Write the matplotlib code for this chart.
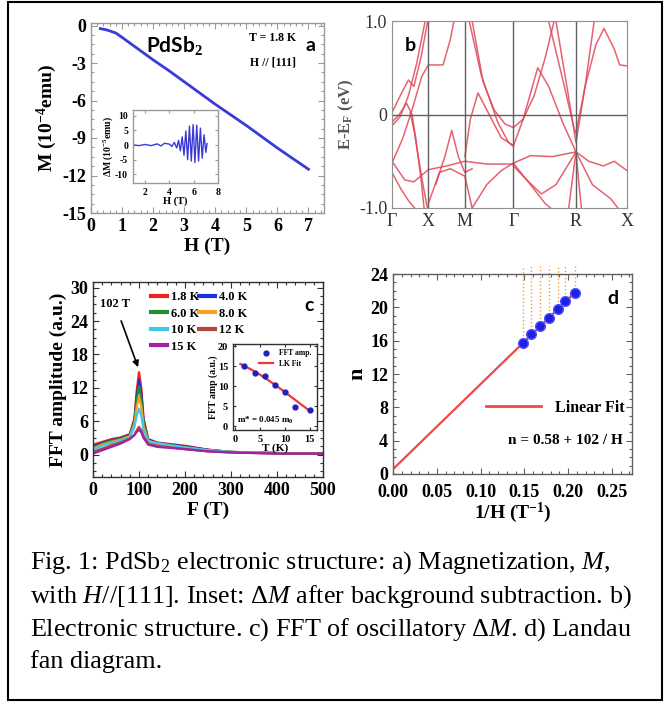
import matplotlib
matplotlib.use('Agg')
import matplotlib.pyplot as plt
from matplotlib.patches import Rectangle
from matplotlib.lines import Line2D

plt.rcParams['font.family'] = ['Liberation Serif', 'DejaVu Serif']
plt.rcParams['mathtext.fontset'] = 'custom'
plt.rcParams['mathtext.rm'] = 'Liberation Serif'
plt.rcParams['mathtext.it'] = 'Liberation Serif:italic'
plt.rcParams['mathtext.bf'] = 'Liberation Serif:bold'
plt.rcParams['axes.unicode_minus'] = False

# ---------------- data ----------------
# panel a: magnetization
m_h = [0.3, 0.5, 0.8, 1.0, 1.5, 2.0, 2.5, 3.0, 3.5, 4.0, 4.5, 5.0, 5.5, 6.0, 6.5, 7.0]
m_val = [-0.25, -0.35, -0.6, -0.95, -1.85, -2.75, -3.6, -4.5, -5.4, -6.3, -7.15, -8.0, -8.9, -9.8, -10.65, -11.5]
# inset a: oscillatory part
dm_h = [1.1, 1.5, 2.0, 2.5, 3.0, 3.3, 3.6, 4.0, 4.2, 4.4, 4.6, 4.75, 4.9, 5.05, 5.2, 5.35,
        5.5, 5.65, 5.8, 5.95, 6.1, 6.25, 6.4, 6.55, 6.7, 6.85, 7.0, 7.1]
dm_val = [0.0, -0.2, 0.2, -0.2, 0.4, -0.3, 0.6, 0.3, -0.5, 0.9, -1.0, 1.6, -2.0, 2.8, -3.5, 4.8,
          -5.0, 6.5, -5.5, 7.0, -6.0, 6.8, -5.5, 5.8, -4.5, 3.5, -2.5, 0.5]

# panel b: band structure (k, E) pairs
k_nodes = [0.0, 1.0, 2.0, 3.33, 5.05, 6.45]
k_labels = ['Γ', 'X', 'M', 'Γ', 'R', 'X']
band_1 = [(0, -0.12), (0.23, -0.02), (0.45, 0.20), (0.68, 0.55), (0.91, 1.0)]
band_2 = [(0, 0.02), (0.25, 0.22), (0.45, 0.37), (0.6, 0.30), (0.8, 0.62), (0.98, 1.0)]
band_3 = [(0, -0.52), (0.3, -0.25), (0.55, 0.05), (0.82, 0.41), (1.0, 0.53), (1.4, 0.53), (1.6, 0.80), (1.7, 1.0)]
band_4 = [(0, -0.50), (0.35, -0.70), (0.6, -0.72), (1.0, -0.59), (1.5, -0.55), (2.0, -0.50),
          (2.6, -0.53), (3.33, -0.53)]
band_5 = [(0.5, 0.02), (0.62, -0.2), (0.72, -0.45), (0.85, -0.75), (0.97, -1.0)]
band_6 = [(0, -0.62), (0.25, -0.8), (0.45, -0.92), (0.62, -1.0)]
band_7 = [(0, -0.08), (0.2, 0.0), (0.4, 0.12), (0.55, 0.0), (0.65, -0.25), (0.8, -0.7), (0.88, -1.0)]
band_8 = [(1.2, -0.75), (1.45, -0.45), (1.64, -0.17), (1.82, -0.45), (2.0, -0.62), (2.2, -0.58)]
band_9 = [(1.0, -0.95), (1.3, -0.62), (1.6, -0.58), (2.0, -0.66), (2.2, -1.0)]
band_10 = [(2.2, 1.0), (2.5, 0.35), (2.8, 0.05), (3.1, -0.1), (3.33, -0.14), (3.6, -0.05),
           (3.9, 0.2), (4.2, 0.6), (4.45, 1.0)]
band_11 = [(2.12, 1.0), (2.45, 0.42), (2.9, -0.08), (3.2, -0.30), (3.33, -0.34), (3.6, -0.05),
           (4.0, 0.50), (4.3, 0.30), (4.7, -0.1), (5.05, -0.40)]
band_12 = [(2.0, -0.45), (2.15, -0.05), (2.36, 0.23), (2.6, 0.05), (3.0, -0.25), (3.33, -0.33)]
band_13 = [(4.3, 1.0), (4.7, 0.35), (5.0, -0.15), (5.05, -0.2), (5.3, 0.3), (5.55, 1.0)]
band_14 = [(4.5, 1.0), (4.8, 0.3), (5.05, -0.30), (5.3, 0.3), (5.6, 0.75), (5.82, 0.92),
           (6.1, 0.7), (6.25, 0.53), (6.45, 0.52)]
band_15 = [(3.33, -0.55), (3.7, -0.7), (4.1, -0.85), (4.5, -0.75), (5.05, -0.40)]
band_16 = [(2.2, -1.0), (2.6, -0.75), (3.0, -0.6), (3.33, -0.52), (3.8, -0.44), (4.4, -0.45), (5.05, -0.40)]
band_17 = [(5.05, -0.40), (5.4, -0.5), (5.8, -0.55), (6.1, -0.50), (6.45, -0.60)]
band_18 = [(4.85, -1.0), (4.95, -0.7), (5.05, -0.40), (5.12, -0.7), (5.2, -1.0)]
band_19 = [(5.05, -0.40), (5.5, -0.75), (6.0, -0.9), (6.2, -1.0)]
band_20 = [(3.33, -0.52), (3.8, -0.75), (4.2, -0.95), (4.35, -1.0)]
bands = [band_1, band_2, band_3, band_4, band_5, band_6, band_7, band_8, band_9, band_10,
         band_11, band_12, band_13, band_14, band_15, band_16, band_17, band_18, band_19, band_20]

# panel c: FFT spectra
fft_f = [0, 20, 40, 60, 80, 90, 95, 100, 105, 110, 120, 140, 170, 200, 250, 300, 350, 400, 450, 500]
fft_18 = [1.8, 2.3, 2.8, 3.1, 3.7, 6.5, 11.5, 14.8, 12.0, 6.5, 2.8, 2.2, 1.9, 1.6, 0.9, 0.5, 0.4, 0.3, 0.2, 0.2]
fft_40 = [1.5, 2.1, 2.6, 3.0, 3.6, 6.2, 10.5, 13.5, 11.0, 6.0, 2.7, 2.1, 1.8, 1.5, 0.9, 0.5, 0.4, 0.3, 0.2, 0.2]
fft_60 = [1.3, 2.0, 2.5, 2.9, 3.5, 6.0, 9.8, 12.3, 10.0, 5.6, 2.6, 2.0, 1.7, 1.4, 0.8, 0.5, 0.4, 0.3, 0.2, 0.2]
fft_80 = [1.1, 1.8, 2.3, 2.7, 3.3, 5.5, 8.5, 10.5, 8.7, 5.0, 2.5, 1.9, 1.6, 1.3, 0.8, 0.5, 0.4, 0.3, 0.2, 0.2]
fft_100 = [0.9, 1.6, 2.1, 2.5, 3.1, 5.0, 7.0, 8.3, 7.0, 4.3, 2.4, 2.1, 1.7, 1.3, 0.8, 0.5, 0.4, 0.3, 0.2, 0.2]
fft_120 = [0.5, 1.1, 1.7, 2.2, 2.9, 3.6, 4.4, 5.0, 4.4, 3.3, 2.0, 1.6, 1.3, 1.0, 0.6, 0.4, 0.3, 0.2, 0.2, 0.2]
fft_150 = [0.2, 0.8, 1.4, 2.0, 2.8, 3.5, 4.1, 4.5, 4.0, 3.0, 1.8, 1.4, 1.2, 1.0, 0.6, 0.4, 0.3, 0.2, 0.2, 0.2]
fft_labels = ['1.8 K', '4.0 K', '6.0 K', '8.0 K', '10 K', '12 K', '15 K']
fft_colors = ['#f02020', '#2030e0', '#20902a', '#f5a020', '#40c8f0', '#b04a40', '#a020a8']
# inset c: amplitude vs T
amp_t = [1.8, 4, 6, 8, 10, 12, 15]
amp_val = [15.0, 13.3, 12.6, 10.3, 8.6, 4.8, 4.0]
lk_t = [1.0, 4, 6, 8, 10, 12, 15]
lk_val = [15.5, 13.6, 12.0, 10.3, 8.5, 6.6, 3.8]

# panel d: Landau fan
inv_h = [0.149, 0.158, 0.168, 0.178, 0.188, 0.197, 0.208]
n_idx = [15.75, 16.75, 17.75, 18.75, 19.75, 20.75, 21.75]
fit_x = [0.0, 0.21]
fit_n = [0.58, 22.0]

caption_lines = [
    r"Fig. 1: PdSb$_2$ electronic structure: a) Magnetization, $\mathit{M}$,",
    r"with $\mathit{H}$//[111]. Inset: Δ$\mathit{M}$ after background subtraction. b)",
    r"Electronic structure. c) FFT of oscillatory Δ$\mathit{M}$. d) Landau",
    r"fan diagram.",
]

# ---------------- figure ----------------
W, H = 664, 702
fig = plt.figure(figsize=(W / 100, H / 100), dpi=100)


def ax_px(x0, y0, x1, y1):
    return fig.add_axes([x0 / W, 1 - y1 / H, (x1 - x0) / W, (y1 - y0) / H])


def style(ax, size=13, color='black', spine='#303030'):
    ax.tick_params(direction='in', which='both', top=True, right=True, labelsize=size,
                   labelcolor=color, length=4, width=0.8, color=spine)
    ax.tick_params(which='minor', length=2)
    for s in ax.spines.values():
        s.set_color(spine)
        s.set_linewidth(1.0)
    for lab in ax.get_xticklabels() + ax.get_yticklabels():
        lab.set_fontweight('bold')


bold = dict(fontweight='bold')

# panel a
axa = ax_px(91, 23, 324, 213)
axa.plot(m_h, m_val, color='#3a3ad8', lw=2)
axa.set_xlim(0, 7.5)
axa.set_ylim(-15, 0.2)
axa.set_xticks(range(0, 8))
axa.set_yticks([0, -3, -6, -9, -12, -15])
axa.minorticks_on()
style(axa, 13, spine='#9a9a9a')
axa.set_xlabel('H (T)', fontsize=14, fontweight='bold', labelpad=2)
axa.set_ylabel(r'M (10$^{\mathbf{-4}}$emu)', fontsize=14, fontweight='bold', labelpad=2)
axa.text(0.36, 0.88, r'PdSb$_\mathbf{2}$', transform=axa.transAxes, fontsize=15,
         family=['Lato', 'DejaVu Sans'], fontweight='bold', ha='center', va='center')
axa.text(0.78, 0.92, 'T = 1.8 K', transform=axa.transAxes, fontsize=8.5, ha='center', va='center', **bold)
axa.text(0.78, 0.79, 'H // [111]', transform=axa.transAxes, fontsize=8.5, ha='center', va='center', **bold)
axa.text(0.94, 0.88, 'a', transform=axa.transAxes, fontsize=14, family=['Lato', 'DejaVu Sans'],
         fontweight='bold', ha='center', va='center')

axai = ax_px(133, 110, 218, 183)
axai.plot(dm_h, dm_val, color='#3a3ad8', lw=1)
axai.set_xlim(1, 8)
axai.set_ylim(-13, 12)
axai.set_xticks([2, 4, 6, 8])
axai.set_yticks([-10, -5, 0, 5, 10])
style(axai, 7, spine='#9a9a9a')
axai.tick_params(length=2)
axai.set_xlabel('H (T)', fontsize=7.5, fontweight='bold', labelpad=0)
axai.set_ylabel(r'ΔM (10$^{\mathbf{-5}}$emu)', fontsize=7, fontweight='bold', labelpad=0)

# panel b
axb = ax_px(392, 21, 627, 208)
for band in bands:
    axb.plot([p[0] for p in band], [p[1] for p in band], color='#e04858', lw=1.1, alpha=0.85)
for kk in k_nodes[1:-1]:
    axb.axvline(kk, color='#606060', lw=1.0)
axb.axhline(0, color='#606060', lw=1.0)
axb.set_xlim(k_nodes[0], k_nodes[-1])
axb.set_ylim(-1, 1)
axb.set_xticks(k_nodes)
axb.set_xticklabels(k_labels)
axb.set_yticks([-1, 0, 1])
axb.set_yticklabels(['-1.0', '0', '1.0'])
axb.tick_params(direction='in', labelsize=13, labelcolor='#333333', length=3, color='#909090', right=True)
for s in axb.spines.values():
    s.set_color('#909090')
axb.set_ylabel(r'E-E$_\mathbf{F}$ (eV)', fontsize=12, fontweight='bold', color='#555555', labelpad=2)
axb.text(0.08, 0.87, 'b', transform=axb.transAxes, fontsize=14, family=['Lato', 'DejaVu Sans'],
         fontweight='bold', ha='center', va='center')

# panel c
axc = ax_px(93, 282, 323, 477)
series = [fft_18, fft_40, fft_60, fft_80, fft_100, fft_120, fft_150]
handles = []
for ys, lab, col in zip(series, fft_labels, fft_colors):
    axc.plot(fft_f, ys, color=col, lw=1.6)
    handles.append(Line2D([], [], color=col, lw=3, label=lab))
axc.set_xlim(0, 500)
axc.set_ylim(-4, 31)
axc.set_xticks([0, 100, 200, 300, 400, 500])
axc.set_yticks([0, 6, 12, 18, 24, 30])
axc.minorticks_on()
style(axc, 13)
axc.set_xlabel('F (T)', fontsize=14, fontweight='bold', labelpad=2)
axc.set_ylabel('FFT amplitude (a.u.)', fontsize=14, fontweight='bold', labelpad=2)
order = [0, 2, 4, 6, 1, 3, 5]
axc.legend([handles[i] for i in order], [fft_labels[i] for i in order], ncol=2, loc='upper left',
           bbox_to_anchor=(0.21, 1.0), frameon=False, prop=dict(size=9, weight='bold'),
           columnspacing=0.0, handlelength=1.3, handletextpad=0.3, labelspacing=0.35, borderpad=0.25)
axc.annotate('102 T', xy=(98, 15.7), xytext=(48, 27), fontsize=9, fontweight='bold', ha='center',
             va='center', arrowprops=dict(arrowstyle='-|>', color='black', lw=1.2, shrinkA=6, shrinkB=0))
axc.text(0.94, 0.88, 'c', transform=axc.transAxes, fontsize=14, family=['Lato', 'DejaVu Sans'],
         fontweight='bold', ha='center', va='center')

axci = ax_px(233, 344, 317, 430)
axci.plot(lk_t, lk_val, color='#f03838', lw=1.6, label='LK Fit')
axci.plot(amp_t, amp_val, 'o', color='#2020c0', ms=3.5, label='FFT amp.', zorder=3)
axci.set_xlim(-0.5, 16.5)
axci.set_ylim(-1, 20.5)
axci.set_xticks([0, 5, 10, 15])
axci.set_yticks([0, 5, 10, 15, 20])
style(axci, 7.5)
axci.tick_params(length=2)
axci.set_xlabel('T (K)', fontsize=8, fontweight='bold', labelpad=0)
axci.set_ylabel('FFT amp (a.u.)', fontsize=7, fontweight='bold', labelpad=0)
h1, l1 = axci.get_legend_handles_labels()
axci.legend([h1[1], h1[0]], [l1[1], l1[0]], loc='upper right', frameon=False,
            prop=dict(size=5.5, weight='bold'), handlelength=1.8, borderpad=0.2, labelspacing=0.3)
axci.text(0.05, 0.08, r'm* = 0.045 m$_\mathbf{0}$', transform=axci.transAxes, fontsize=6.5, **bold)

# panel d
axd = ax_px(393, 274, 632, 474)
axd.vlines(inv_h, n_idx, 25, colors='#f0a030', linestyles=':', lw=1.0, clip_on=False)
axd.plot(fit_x, fit_n, color='#f04848', lw=1.6)
axd.plot(inv_h, n_idx, 'o', color='#2020e0', ms=7, mec='#5050ff', zorder=3)
axd.set_xlim(0, 0.273)
axd.set_ylim(0, 24)
axd.set_xticks([0, 0.05, 0.10, 0.15, 0.20, 0.25])
axd.set_xticklabels(['0.00', '0.05', '0.10', '0.15', '0.20', '0.25'])
axd.set_yticks([0, 4, 8, 12, 16, 20, 24])
axd.minorticks_on()
style(axd, 13, spine='#606060')
axd.tick_params(axis='x', pad=7)
axd.set_xlabel(r'1/H (T$^{\mathbf{-1}}$)', fontsize=14, fontweight='bold', labelpad=0)
axd.set_ylabel('n', fontsize=16, fontweight='bold', labelpad=2)
axd.legend([Line2D([], [], color='#f04848', lw=2)], ['Linear Fit'], loc='center left',
           bbox_to_anchor=(0.33, 0.33), frameon=False, prop=dict(size=11.5, weight='bold'),
           handlelength=3.4, handletextpad=0.9)
axd.text(0.96, 0.17, 'n = 0.58 + 102 / H', transform=axd.transAxes, fontsize=11, ha='right',
         va='center', **bold)
axd.text(0.92, 0.88, 'd', transform=axd.transAxes, fontsize=14, family=['Lato', 'DejaVu Sans'],
         fontweight='bold', ha='center', va='center')

# caption
baselines = [569, 603, 636, 668]
for line, b in zip(caption_lines, baselines):
    fig.text(30 / W, 1 - b / H, line, fontsize=18.8, va='baseline', ha='left')

# outer border
fig.patches.append(Rectangle((8 / W, 1 - 700 / H), (662 - 8) / W, (700 - 2) / H, transform=fig.transFigure,
                             fill=False, edgecolor='black', lw=1.5))

fig.savefig('out.png', dpi=100)
